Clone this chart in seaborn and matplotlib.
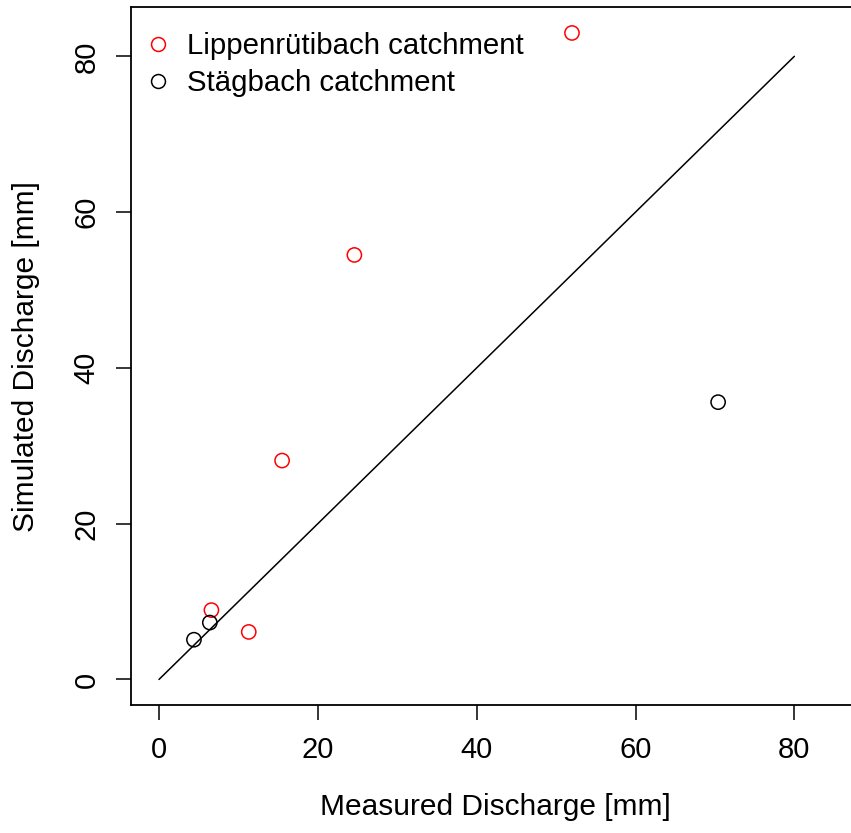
import numpy as np
import pandas as pd
import matplotlib
matplotlib.use('Agg')
import matplotlib.pyplot as plt
import seaborn as sns
from matplotlib.lines import Line2D

# measured vs simulated discharge [mm]
lip_measured = [52.0, 24.6, 15.5, 6.6, 11.3]
lip_simulated = [83.0, 54.5, 28.1, 8.9, 6.1]
stag_measured = [70.4, 6.4, 4.4]
stag_simulated = [35.6, 7.3, 5.1]
one_to_one = [0, 80]
ticks = [0, 20, 40, 60, 80]

sns.set_style('ticks')
plt.rcParams['font.family'] = ['Liberation Sans', 'DejaVu Sans']
plt.rcParams['text.color'] = 'black'
plt.rcParams['axes.labelcolor'] = 'black'

fig = plt.figure(figsize=(8.51, 8.33), dpi=100)
ax = fig.add_axes([0.1539, 0.1533, 0.857, 0.838])
ax.patch.set_visible(False)

sns.lineplot(x=one_to_one, y=one_to_one, color='black', linewidth=1.1, ax=ax)
sns.scatterplot(x=lip_measured, y=lip_simulated, marker='o', s=105,
                facecolors='none', edgecolor='red', linewidth=1.1, ax=ax)
sns.scatterplot(x=stag_measured, y=stag_simulated, marker='o', s=105,
                facecolors='none', edgecolor='black', linewidth=1.1, ax=ax)

ax.set_xlim(-3.53, 88.3)
ax.set_ylim(-3.32, 86.3)
ax.set_xticks(ticks)
ax.set_yticks(ticks)
ax.tick_params(labelsize=21, length=11, width=1.1, pad=11, colors='black')
for lab in ax.get_yticklabels():
    lab.set_rotation(90)
    lab.set_va('center')
for sp in ax.spines.values():
    sp.set_linewidth(1.3)
    sp.set_color('black')
ax.spines['right'].set_visible(False)

ax.set_xlabel('Measured Discharge [mm]', fontsize=21.5, labelpad=21)
ax.set_ylabel('Simulated Discharge [mm]', fontsize=21.5, labelpad=23)

handles = [
    Line2D([], [], linestyle='none', marker='o', markersize=10, markerfacecolor='none',
           markeredgecolor='red', markeredgewidth=1.1, label='Lippenrütibach catchment'),
    Line2D([], [], linestyle='none', marker='o', markersize=10, markerfacecolor='none',
           markeredgecolor='black', markeredgewidth=1.1, label='Stägbach catchment'),
]
ax.legend(handles=handles, loc='upper left', frameon=False, fontsize=21.2,
          bbox_to_anchor=(143 / 851, 1 - 32 / 833), bbox_transform=fig.transFigure,
          borderpad=0, borderaxespad=0, handlelength=1.0, handletextpad=0.5,
          labelspacing=0.3)

fig.savefig('out.png', dpi=100)
